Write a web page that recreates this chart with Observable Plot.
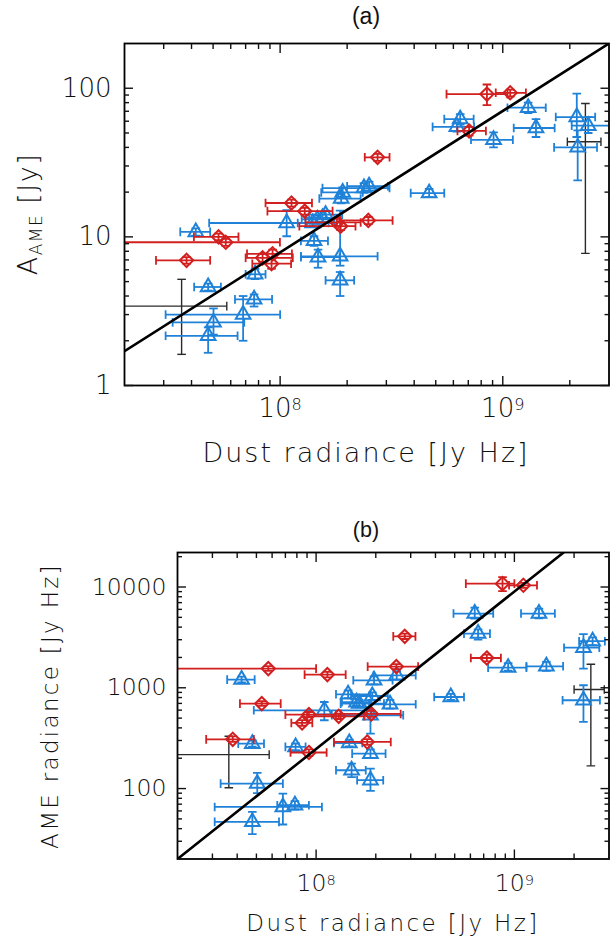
<!DOCTYPE html>
<html><head><meta charset="utf-8">
<script src="https://cdn.jsdelivr.net/npm/d3@7"></script>
<script src="https://cdn.jsdelivr.net/npm/@observablehq/plot@0.6"></script>
<style>
body{margin:0;background:#fff;}
#wrap{width:610px;}
svg{display:block;}
</style></head><body><div id="wrap"></div>
<script>
// ---- data: [dust radiance, lo, hi, value, lo, hi] ----
const aBlue = [
 [1.3e9,1.05e9,1.56e9,74,68,80],
 [6.44e8,5.46e8,7.4e8,62,57,67],
 [6.22e8,4.84e8,7.43e8,55,51,59],
 [9.09e8,7.2e8,1.11e9,45,40,50.5],
 [1.41e9,1.12e9,1.71e9,54,47,62],
 [2.15e9,1.73e9,2.6e9,64,47,92],
 [2.42e9,2.04e9,3.06e9,56,50,64],
 [2.17e9,1.7e9,2.65e9,40,24,52],
 [4.67e8,3.86e8,5.46e8,19.7,18.5,21],
 [1.91e8,1.53e8,2.35e8,19.9,18.5,21.5],
 [1.88e8,1.5e8,2.3e8,18.1,16.8,19.5],
 [2.38e8,1.55e8,3.1e8,21.3,19.8,23],
 [2.51e8,2.0e8,3.05e8,21.9,20.4,23.5],
 [1.07e8,4.8e7,1.75e8,12.4,10.1,15.1],
 [1.42e8,1.24e8,1.64e8,9.4,8.7,10.1],
 [1.48e8,1.24e8,1.85e8,7.3,6.2,8.2],
 [1.86e8,1.24e8,2.74e8,7.4,6.4,15],
 [1.86e8,1.6e8,2.15e8,5.1,4.0,5.8],
 [7.72e7,7.0e7,8.6e7,5.6,5.2,6.1],
 [7.64e7,6.27e7,9.2e7,3.8,3.4,4.1],
 [1.4e8,1.2e8,1.65e8,12.4,11.8,13.1],
 [1.47e8,1.25e8,1.75e8,13.1,12.3,13.9],
 [1.55e8,1.3e8,1.85e8,13.4,12.6,14.2],
 [1.6e8,1.35e8,1.9e8,14.1,13.2,15],
 [4.18e7,3.56e7,4.85e7,10.8,10.2,11.4],
 [4.75e7,4.11e7,5.42e7,4.6,4.35,4.85],
 [6.82e7,3.06e7,1.0e8,3.0,2.0,4.0],
 [5.02e7,3.29e7,6.9e7,2.66,2.2,3.3],
 [4.75e7,3.06e7,6.44e7,2.16,1.66,2.46]
];
const aRed = [
 [1.125e8,8.6e7,1.39e8,16.9,16.0,17.8],
 [1.29e8,8.77e7,1.72e8,14.9,14.1,15.7],
 [2.74e8,2.4e8,3.1e8,34.3,32.5,36.2],
 [2.49e8,1.87e8,3.2e8,12.9,12.2,13.6],
 [1.87e8,1.22e8,2.18e8,11.8,11.1,12.5],
 [1.8e8,1.3e8,2.3e8,12.5,11.8,13.2],
 [8.34e7,7.0e7,1.14e8,7.23,6.8,7.7],
 [9.25e7,7.1e7,1.13e8,7.69,7.2,8.2],
 [9.15e7,7.5e7,1.12e8,6.6,6.1,7.1],
 [5.29e7,4.1e7,6.5e7,10.0,9.5,10.5],
 [5.7e7,1.0e7,9.98e7,9.2,8.7,9.7],
 [3.8e7,2.77e7,4.85e7,6.95,6.6,7.3],
 [8.49e8,5.59e8,1.05e9,91.3,77,106],
 [1.08e9,9.3e8,1.27e9,93.2,88,98],
 [7.06e8,6.26e8,8.4e8,51.6,48,55]
];
const aBlack = [
 [3.61e7,1.0e7,5.76e7,3.42,1.62,5.18],
 [2.35e9,1.95e9,2.76e9,43.7,7.74,79]
];
const aFit = [[2e7,1.7],[3e9,200]];

const bBlue = [
 [6.31e8,4.93e8,7.82e8,5450,4860,6250],
 [1.33e9,1.08e9,1.6e9,5450,4900,6100],
 [6.56e8,5.57e8,7.53e8,3450,3000,3800],
 [2.23e9,1.78e9,2.68e9,2500,1550,3400],
 [2.48e9,2.12e9,2.86e9,2900,2650,3170],
 [9.3e8,7.37e8,1.15e9,1585,1480,1760],
 [1.45e9,1.15e9,1.76e9,1634,1470,1810],
 [4.78e8,3.94e8,5.57e8,810,760,870],
 [2.23e9,1.75e9,2.7e9,752,458,1060],
 [1.96e8,1.54e8,2.43e8,1187,1080,1300],
 [2.55e8,1.95e8,3.18e8,1330,1200,1460],
 [1.45e8,1.26e8,1.88e8,862,790,940],
 [1.65e8,1.33e8,2.2e8,697,640,760],
 [1.92e8,1.5e8,2.3e8,829,760,900],
 [2.36e8,1.85e8,3.18e8,686,620,760],
 [1.88e8,1.2e8,2.75e8,534,351,600],
 [1.47e8,1.23e8,1.71e8,283,262,305],
 [1.1e8,4.85e7,1.8e8,598,476,723],
 [1.88e8,1.52e8,2.24e8,222,200,245],
 [1.51e8,1.26e8,1.78e8,152,130,177],
 [1.88e8,1.61e8,2.18e8,121,95,158],
 [7.88e7,7.0e7,8.85e7,259,240,280],
 [4.21e7,3.56e7,4.9e7,1206,1130,1290],
 [4.77e7,4.05e7,5.46e7,279,260,300],
 [5.05e7,3.3e7,6.8e7,112,90,143],
 [6.8e7,3.08e7,1.07e8,65.7,44,89],
 [7.82e7,6.37e7,9.2e7,68.3,62,75],
 [4.77e7,3.08e7,6.5e7,46.7,35.3,58.6],
 [1.6e8,1.35e8,1.9e8,720,660,780]
];
const bRed = [
 [8.71e8,5.69e8,1.0e9,10800,9120,12560],
 [1.11e9,9.4e8,1.3e9,10400,9800,11000],
 [2.8e8,2.45e8,3.17e8,3240,3050,3440],
 [2.54e8,1.82e8,3.27e8,1622,1530,1720],
 [7.26e8,6.03e8,8.55e8,1976,1830,2130],
 [5.74e7,1.0e7,1.0e8,1550,1470,1640],
 [1.14e8,8.75e7,1.41e8,1352,1270,1440],
 [5.32e7,4.13e7,6.63e7,697,660,735],
 [9.2e7,7.0e7,1.26e8,542,510,575],
 [8.5e7,7.5e7,9.57e7,448,420,478],
 [1.3e8,9.0e7,1.75e8,521,490,555],
 [1.9e8,1.33e8,2.67e8,550,515,590],
 [3.8e7,2.79e7,4.85e7,308,290,330],
 [1.81e8,1.23e8,2.38e8,290,272,310],
 [9.2e7,7.43e7,1.13e8,228,210,245]
];
const bBlack = [
 [3.63e7,1.0e7,5.8e7,217,102,330],
 [2.43e9,2.0e9,2.84e9,960,168,1710]
];
const bFit = [[2e7,20],[1.77e9,22000]];

// ---- ticks ----
const xDomain = [2e7, 3e9];
const xMajor = [1e8, 1e9];
const xMinor = [3e7,4e7,5e7,6e7,7e7,8e7,9e7,2e8,3e8,4e8,5e8,6e8,7e8,8e8,9e8,2e9];
const aYDomain = [1, 200];
const aYMajor = [1, 10, 100];
const aYMinor = [2,3,4,5,6,7,8,9,20,30,40,50,60,70,80,90];
const bYDomain = [20, 22000];
const bYMajor = [100, 1000, 10000];
const bYMinor = [30,40,50,60,70,80,90,200,300,400,500,600,700,800,900,2000,3000,4000,5000,6000,7000,8000,9000,20000];

const RED = "#d21f1f", BLUE = "#1f82d8", BLACK = "#2a2a2a";
const FONT = "'DejaVu Sans', sans-serif";
const TFONT = "'Liberation Sans', Arial, sans-serif";

const vcap = {draw(ctx, size){ const h = Math.sqrt(size/Math.PI); ctx.moveTo(0,-h); ctx.lineTo(0,h); }};
const hcap = {draw(ctx, size){ const h = Math.sqrt(size/Math.PI); ctx.moveTo(-h,0); ctx.lineTo(h,0); }};

function rows(arr){ return arr.map(([x,xlo,xhi,y,ylo,yhi]) => ({x,xlo,xhi,y,ylo,yhi})); }

function errMarks(arr, color, sw){
  const d = rows(arr);
  return [
    Plot.link(d, {x1:"xlo", x2:"xhi", y1:"y", y2:"y", stroke:color, strokeWidth:sw, clip:true}),
    Plot.link(d, {x1:"x", x2:"x", y1:"ylo", y2:"yhi", stroke:color, strokeWidth:sw, clip:true}),
    Plot.dot(d, {x:"xlo", y:"y", symbol:vcap, r:4.3, stroke:color, fill:"none", strokeWidth:sw, clip:true}),
    Plot.dot(d, {x:"xhi", y:"y", symbol:vcap, r:4.3, stroke:color, fill:"none", strokeWidth:sw, clip:true}),
    Plot.dot(d, {x:"x", y:"ylo", symbol:hcap, r:4.3, stroke:color, fill:"none", strokeWidth:sw, clip:true}),
    Plot.dot(d, {x:"x", y:"yhi", symbol:hcap, r:4.3, stroke:color, fill:"none", strokeWidth:sw, clip:true})
  ];
}

const fmtX = d => `10^${Math.round(Math.log10(d))}`;

function panel(o){
  const marks = [
    ...errMarks(o.black, BLACK, 1.4),
    ...errMarks(o.blue, BLUE, 1.8),
    Plot.dot(rows(o.blue), {x:"x", y:"y", symbol:"triangle2", r:7, stroke:BLUE, fill:"none", strokeWidth:2}),
    ...errMarks(o.red, RED, 1.8),
    Plot.dot(rows(o.red), {x:"x", y:"y", symbol:"diamond2", r:6, stroke:RED, fill:"none", strokeWidth:2}),
    Plot.line(o.fit, {x:d=>d[0], y:d=>d[1], stroke:"black", strokeWidth:2.6, clip:true}),
    Plot.frame({stroke:"black", strokeWidth:1.8}),
    Plot.axisX(xMajor, {anchor:"bottom", tickSize:-9, tickPadding:o.xPad, tickFormat:fmtX, fontSize:o.fs, label:null, strokeWidth:1.4}),
    Plot.axisX(xMajor, {anchor:"top", tickSize:-9, fill:"none", label:null, strokeWidth:1.4}),
    Plot.axisX(xMinor, {anchor:"bottom", tickSize:-5, fill:"none", label:null, strokeWidth:1.4}),
    Plot.axisX(xMinor, {anchor:"top", tickSize:-5, fill:"none", label:null, strokeWidth:1.4}),
    Plot.axisY(o.yMajor, {anchor:"left", tickSize:-9, tickPadding:o.yPad, tickFormat:d=>String(d), fontSize:o.fs, label:null, strokeWidth:1.4}),
    Plot.axisY(o.yMajor, {anchor:"right", tickSize:-9, fill:"none", label:null, strokeWidth:1.4}),
    Plot.axisY(o.yMinor, {anchor:"left", tickSize:-5, fill:"none", label:null, strokeWidth:1.4}),
    Plot.axisY(o.yMinor, {anchor:"right", tickSize:-5, fill:"none", label:null, strokeWidth:1.4})
  ];
  const svg = Plot.plot({
    width:610, height:o.height,
    marginTop:o.mt, marginBottom:o.mb, marginLeft:o.ml, marginRight:1.5,
    x:{type:"log", domain:xDomain},
    y:{type:"log", domain:o.yDomain},
    style:{fontFamily:FONT, fontWeight:200, color:"#111", background:"#fff", overflow:"visible"},
    marks
  });
  d3.select(svg).selectAll("text").each(function(){
    const m = /^10\^(\d+)$/.exec(this.textContent);
    if (m) {
      const s = d3.select(this);
      s.text("10");
      s.append("tspan").attr("dy","-0.42em").attr("font-size","0.62em").text(m[1]);
    }
  });
  return svg;
}

const wrap = d3.select("#wrap");

// Panel (a)
const svgA = panel({blue:aBlue, red:aRed, black:aBlack, fit:aFit, yDomain:aYDomain, yMajor:aYMajor, yMinor:aYMinor,
  height:470, mt:43, mb:85, ml:124, fs:26, xPad:22, yPad:22});
const A = d3.select(svgA);
A.append("text").attr("x",366).attr("y",24).attr("text-anchor","middle").attr("font-family",TFONT).attr("font-weight",400).attr("font-size",23).text("(a)");
A.append("text").attr("x",366).attr("y",462).attr("text-anchor","middle").attr("font-size",27).attr("letter-spacing","2px").text("Dust radiance [Jy Hz]");
const ya = A.append("text").attr("transform","translate(37,214) rotate(-90)").attr("text-anchor","middle").attr("font-size",27).attr("letter-spacing","1.5px");
ya.append("tspan").text("A");
ya.append("tspan").attr("font-size",17).attr("dy",5).text("AME");
ya.append("tspan").attr("dy",-5).text("\u00a0[Jy]");
wrap.node().appendChild(svgA);

// Panel (b)
const svgB = panel({blue:bBlue, red:bRed, black:bBlack, fit:bFit, yDomain:bYDomain, yMajor:bYMajor, yMinor:bYMinor,
  height:472, mt:82, mb:83.5, ml:177, fs:23.5, xPad:24, yPad:20});
const B = d3.select(svgB);
B.append("text").attr("x",366).attr("y",67).attr("text-anchor","middle").attr("font-family",TFONT).attr("font-weight",400).attr("font-size",21.5).text("(b)");
B.append("text").attr("x",393).attr("y",461).attr("text-anchor","middle").attr("font-size",23).attr("letter-spacing","2.4px").text("Dust radiance [Jy Hz]");
B.append("text").attr("transform","translate(58,236) rotate(-90)").attr("text-anchor","middle").attr("font-size",23).attr("letter-spacing","2.3px").text("AME radiance [Jy Hz]");
wrap.node().appendChild(svgB);
</script></body></html>
